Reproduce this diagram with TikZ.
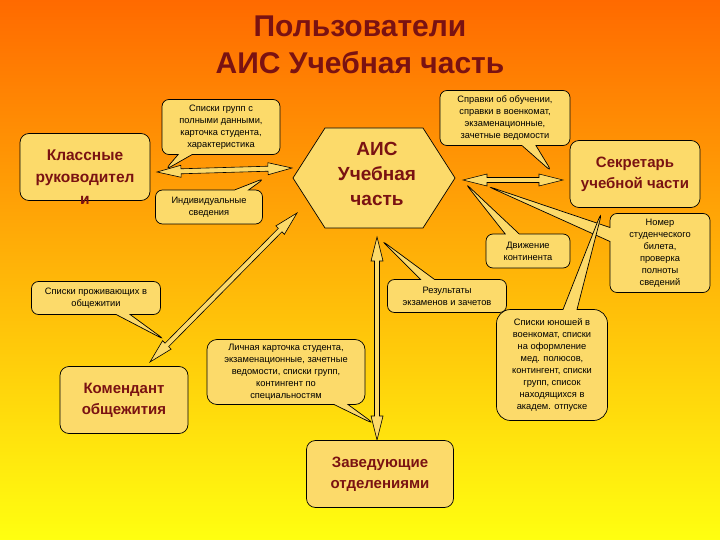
\documentclass[tikz,border=0pt]{standalone}
\usepackage{fontspec}
\setmainfont{Liberation Sans}
\usetikzlibrary{calc,shapes.callouts}
\definecolor{bgtop}{HTML}{FF6A00}
\definecolor{bgmid}{HTML}{FFBE00}
\definecolor{bgbot}{HTML}{FFFF10}
\definecolor{boxfill}{HTML}{FCDA6A}
\definecolor{maroon}{HTML}{7A1212}
\newcommand\dbar[2]{\draw[arr] (#1) -- ($(#1)!24pt!(#2)!6pt!90:(#2)$) -- ($(#1)!24pt!(#2)!2.5pt!90:(#2)$) -- ($(#2)!24pt!(#1)!2.5pt!-90:(#1)$) -- ($(#2)!24pt!(#1)!6pt!-90:(#1)$) -- (#2) -- ($(#2)!24pt!(#1)!6pt!90:(#1)$) -- ($(#2)!24pt!(#1)!2.5pt!90:(#1)$) -- ($(#1)!24pt!(#2)!2.5pt!-90:(#2)$) -- ($(#1)!24pt!(#2)!6pt!-90:(#2)$) -- cycle;}
\begin{document}
\begin{tikzpicture}[x=1pt,y=-1pt,
  arr/.style={draw=black,fill=boxfill,line width=0.6pt,line join=miter},
  mainbox/.style={draw=black,fill=boxfill,rounded corners=9pt,line width=0.7pt,align=center,text=maroon,font=\bfseries\fontsize{15}{21}\selectfont,inner sep=0pt},
  note/.style={rectangle callout,draw=black,fill=boxfill,rounded corners=7pt,line width=0.7pt,align=center,font=\fontsize{9.3}{12}\selectfont,inner sep=0pt,callout pointer width=14pt}]
\shade[top color=bgtop,middle color=bgmid,bottom color=bgbot] (0,0) rectangle (720,540);
\node[text=maroon,font=\bfseries\fontsize{30}{37}\selectfont,align=center] (title) at (360,45) {Пользователи\\АИС Учебная часть};
% arrow endpoints
\coordinate (k1) at (157,172); \coordinate (k2) at (292,168);
\coordinate (s1) at (463,180); \coordinate (s2) at (563,180);
\coordinate (c1) at (297,213); \coordinate (c2) at (150,362);
\coordinate (z1) at (377,237); \coordinate (z2) at (377,440);
\dbar{k1}{k2}
\dbar{s1}{s2}
\dbar{c1}{c2}
\dbar{z1}{z2}
% pointer tips
\coordinate (t1) at (165,170); \coordinate (t2) at (265,178);
\coordinate (t3) at (552,172); \coordinate (t4) at (465,183);
\coordinate (t5) at (487,186); \coordinate (t6) at (165,340);
\coordinate (t7) at (381,240); \coordinate (t8) at (603,208);
\coordinate (t9) at (376,425);
\node[note,minimum width=118pt,minimum height=55pt,callout absolute pointer=(t1)] (n1) at (221,127) {Списки групп с\\полными данными,\\карточка студента,\\характеристика};
\node[note,minimum width=107pt,minimum height=34pt,callout absolute pointer=(t2)] (n2) at (209,207) {Индивидуальные\\сведения};
\node[note,minimum width=130pt,minimum height=55pt,callout absolute pointer=(t3)] (n3) at (505,118) {Справки об обучении,\\справки в военкомат,\\экзаменационные,\\зачетные ведомости};
\node[note,minimum width=84pt,minimum height=34pt,callout absolute pointer=(t4)] (n4) at (528,251) {Движение\\континента};
\node[note,minimum width=100pt,minimum height=79pt,callout absolute pointer=(t5)] (n5) at (660,253) {Номер\\студенческого\\билета,\\проверка\\полноты\\сведений};
\node[note,minimum width=129pt,minimum height=33pt,callout absolute pointer=(t6)] (n6) at (96,298) {Списки проживающих в\\общежитии};
\node[note,minimum width=119pt,minimum height=33pt,callout absolute pointer=(t7)] (n7) at (447,296) {Результаты\\экзаменов и зачетов};
\node[note,minimum width=111pt,minimum height=111pt,rounded corners=14pt,callout absolute pointer=(t8)] (n8) at (552,365) {Списки юношей в\\военкомат, списки\\на оформление\\мед. полюсов,\\контингент, списки\\групп, список\\находящихся в\\академ. отпуске};
\node[note,minimum width=158pt,minimum height=65pt,rounded corners=10pt,callout absolute pointer=(t9)] (n9) at (286,372) {Личная карточка студента,\\экзаменационные, зачетные\\ведомости, списки групп,\\контингент по\\специальностям};
% main nodes
\draw[fill=boxfill,line width=0.7pt] (325,128) -- (423,128) -- (455,178) -- (423,228) -- (325,228) -- (293,178) -- cycle;
\node[text=maroon,font=\bfseries\fontsize{19}{25}\selectfont,align=center] (ais) at (377,174) {АИС\\Учебная\\часть};
\node[mainbox,minimum width=130pt,minimum height=67pt] (kl) at (85,167) {};
\node[text=maroon,font=\bfseries\fontsize{15.5}{22}\selectfont,align=center] (klt) at (85,177) {Классные\\руководител\\и};
\node[mainbox,minimum width=130pt,minimum height=67pt] (sec) at (635,174) {Секретарь\\учебной части};
\node[mainbox,minimum width=128pt,minimum height=67pt] (kom) at (124,400) {Комендант\\общежития};
\node[mainbox,minimum width=147pt,minimum height=67pt] (zav) at (380,474) {Заведующие\\отделениями};
\end{tikzpicture}
\end{document}
